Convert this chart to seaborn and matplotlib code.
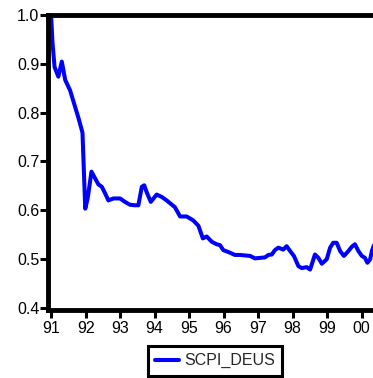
import matplotlib
matplotlib.use("Agg")
import matplotlib.pyplot as plt
import seaborn as sns
import pandas as pd

# decimal-year time axis and index values
years = [1991.00, 1991.04, 1991.10, 1991.21, 1991.31, 1991.41, 1991.55, 1991.70,
         1991.79, 1991.91, 1991.99, 1992.06, 1992.17, 1992.37, 1992.47, 1992.57,
         1992.66, 1992.81, 1993.00, 1993.14, 1993.29, 1993.43, 1993.53, 1993.63,
         1993.70, 1993.77, 1993.89, 1994.06, 1994.21, 1994.35, 1994.59, 1994.74,
         1994.93, 1995.12, 1995.27, 1995.40, 1995.51, 1995.66, 1995.80, 1995.90,
         1995.99, 1996.14, 1996.33, 1996.48, 1996.62, 1996.77, 1996.91, 1997.06,
         1997.20, 1997.30, 1997.40, 1997.49, 1997.59, 1997.73, 1997.83, 1997.93,
         1998.04, 1998.17, 1998.27, 1998.41, 1998.51, 1998.65, 1998.75, 1998.85,
         1998.99, 1999.09, 1999.18, 1999.28, 1999.38, 1999.49, 1999.62, 1999.72,
         1999.81, 1999.91, 2000.01, 2000.10, 2000.17, 2000.25, 2000.30, 2000.36]
scpi_deus = [1.000, 0.944, 0.894, 0.874, 0.905, 0.867, 0.846, 0.811,
             0.790, 0.759, 0.603, 0.624, 0.679, 0.653, 0.648, 0.634,
             0.620, 0.624, 0.624, 0.617, 0.611, 0.610, 0.610, 0.648,
             0.651, 0.637, 0.617, 0.632, 0.627, 0.620, 0.606, 0.587,
             0.587, 0.579, 0.568, 0.542, 0.546, 0.535, 0.530, 0.528,
             0.518, 0.514, 0.508, 0.508, 0.507, 0.506, 0.501, 0.502,
             0.503, 0.508, 0.509, 0.518, 0.523, 0.519, 0.526, 0.516,
             0.506, 0.485, 0.481, 0.483, 0.478, 0.509, 0.502, 0.490,
             0.499, 0.523, 0.533, 0.533, 0.516, 0.506, 0.516, 0.525,
             0.530, 0.516, 0.506, 0.502, 0.492, 0.499, 0.516, 0.528]
series_name = "SCPI_DEUS"
xtick_vals = [1991, 1992, 1993, 1994, 1995, 1996, 1997, 1998, 1999, 2000]
xtick_labels = ["91", "92", "93", "94", "95", "96", "97", "98", "99", "00"]
ytick_vals = [0.4, 0.5, 0.6, 0.7, 0.8, 0.9, 1.0]
ytick_labels = ["0.4", "0.5", "0.6", "0.7", "0.8", "0.9", "1.0"]

df = pd.DataFrame({"year": years, "value": scpi_deus})

sns.set_theme(style="white")
plt.rcParams["font.family"] = ["Liberation Sans", "DejaVu Sans"]

fig = plt.figure(figsize=(3.73, 3.78), dpi=100)
ax = fig.add_axes([48 / 373, 68 / 378, 348 / 373, 294.7 / 378])

sns.lineplot(data=df, x="year", y="value", color="#0000ff", linewidth=2.9,
             label=series_name, ax=ax)

ax.set_xlim(1990.91, 2001.0)
ax.set_ylim(0.395, 1.0)
ax.set_xticks(xtick_vals)
ax.set_xticklabels(xtick_labels)
ax.set_yticks(ytick_vals)
ax.set_yticklabels(ytick_labels)
ax.set_xlabel("")
ax.set_ylabel("")

for s in ax.spines.values():
    s.set_color("black")
    s.set_linewidth(3.5)
ax.tick_params(axis="both", which="both", direction="out", length=6,
               width=2.2, color="black", labelsize=11.5, labelcolor="black",
               bottom=True, left=True, top=False, right=False)
ax.tick_params(axis="y", pad=0.3)
ax.tick_params(axis="x", pad=2.0)

ax.get_legend().remove()
leg = fig.legend(handles=ax.get_lines()[:1], labels=[series_name],
                 loc="upper center", bbox_to_anchor=(215 / 373, 1 - 346 / 378),
                 bbox_transform=fig.transFigure, fancybox=False, framealpha=1,
                 edgecolor="black", fontsize=11.5, handlelength=1.5,
                 handletextpad=0.35, borderpad=0.45, borderaxespad=0)
leg.get_frame().set_linewidth(2.2)

fig.savefig("out.png", dpi=100)
